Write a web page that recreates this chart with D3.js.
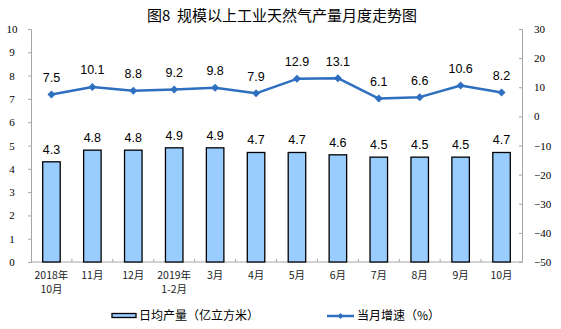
<!DOCTYPE html>
<html><head><meta charset="utf-8">
<script src="https://cdn.jsdelivr.net/npm/d3@7"></script>
<style>body{margin:0;background:#fff}svg{display:block}</style>
</head><body>
<svg id="c" width="561" height="329"></svg>
<script>
const categories = ["2018年10月","11月","12月","2019年1-2月","3月","4月","5月","6月","7月","8月","9月","10月"];
const xLabelLines = [["2018年","10月"],["11月"],["12月"],["2019年","1-2月"],["3月"],["4月"],["5月"],["6月"],["7月"],["8月"],["9月"],["10月"]];
const dailyOutput = [4.3,4.8,4.8,4.9,4.9,4.7,4.7,4.6,4.5,4.5,4.5,4.7];
const monthlyGrowth = [7.5,10.1,8.8,9.2,9.8,7.9,12.9,13.1,6.1,6.6,10.6,8.2];
const leftTicks = [0,1,2,3,4,5,6,7,8,9,10];
const rightTicks = [-50,-40,-30,-20,-10,0,10,20,30];
const title = "图8  规模以上工业天然气产量月度走势图";
const legendNames = ["日均产量（亿立方米）","当月增速（%）"];

const svg = d3.select("#c");
const L = 31, R = 522, T = 29, B = 262;
const barColor = "#99CCFF", lineColor = "#2E6FC0", axisColor = "#A6A6A6";
const numFont = "'Liberation Serif','Times New Roman',serif";
const cjk = "'Noto Sans CJK SC','Noto Sans',sans-serif";
const sans = "'Liberation Sans',Arial,sans-serif";

const x = d3.scaleBand().domain(categories).range([L, R]).paddingInner(0.572).paddingOuter(0.286);
const yL = d3.scaleLinear().domain([0,10]).range([B, T]);
const yR = d3.scaleLinear().domain([-50,30]).range([B, T]);
const cx = c => x(c) + x.bandwidth()/2;

svg.append("text").attr("x", 282).attr("y", 21).attr("text-anchor","middle")
  .style("white-space","pre").attr("font-weight", 400)
  .attr("font-family", cjk).attr("font-size", 15).attr("fill","#000").text(title);

// left axis
const gl = svg.append("g").attr("transform",`translate(${L},0)`)
  .call(d3.axisLeft(yL).tickValues(leftTicks).tickSize(3).tickPadding(6).tickFormat(d3.format("d")));
gl.select(".domain").attr("stroke", axisColor);
gl.selectAll(".tick line").attr("stroke", axisColor);
gl.selectAll("text").attr("font-family", numFont).attr("font-size", 11).attr("fill","#000")
  .attr("text-anchor","middle").attr("x", -19);

// right axis
const gr = svg.append("g").attr("transform",`translate(${R},0)`)
  .call(d3.axisRight(yR).tickValues(rightTicks).tickSize(-3).tickPadding(12).tickFormat(d3.format("d")));
gr.select(".domain").attr("stroke", axisColor);
gr.selectAll(".tick line").attr("stroke", axisColor);
gr.selectAll("text").attr("font-family", numFont).attr("font-size", 11).attr("fill","#000");

// bottom axis
svg.append("line").attr("x1", L).attr("x2", R).attr("y1", B).attr("y2", B).attr("stroke", axisColor);
svg.selectAll(".xb").data(d3.range(1, categories.length)).enter().append("line")
  .attr("x1", i => L + i*x.step()).attr("x2", i => L + i*x.step())
  .attr("y1", B).attr("y2", B-3).attr("stroke", axisColor);
const xl = svg.selectAll(".xl").data(categories).enter().append("text")
  .attr("font-family", cjk).attr("font-size", 10.5).attr("fill","#222").attr("text-anchor","middle");
xl.each(function(c, i){
  const t = d3.select(this);
  xLabelLines[i].forEach((s, j) => t.append("tspan").attr("x", cx(c)).attr("y", 279 + j*14).text(s));
});

// bars
svg.selectAll(".bar").data(dailyOutput).enter().append("rect")
  .attr("x", (d,i) => x(categories[i])).attr("width", x.bandwidth())
  .attr("y", d => yL(d)).attr("height", d => B - yL(d))
  .attr("fill", barColor).attr("stroke","#000").attr("stroke-width", 1.3);
svg.selectAll(".bl").data(dailyOutput).enter().append("text")
  .attr("x", (d,i) => cx(categories[i])).attr("y", d => yL(d) - 8)
  .attr("text-anchor","middle").attr("font-family", sans).attr("font-size", 12.5).attr("fill","#000")
  .text(d => d.toFixed(1));

// line
const line = d3.line().x((d,i) => cx(categories[i])).y(d => yR(d));
svg.append("path").datum(monthlyGrowth).attr("d", line).attr("fill","none")
  .attr("stroke", lineColor).attr("stroke-width", 2.5).attr("stroke-linejoin","round");
const diamond = (r) => `M0,${-r}L${r},0L0,${r}L${-r},0Z`;
svg.selectAll(".mk").data(monthlyGrowth).enter().append("path")
  .attr("transform", (d,i) => `translate(${cx(categories[i])},${yR(d)})`)
  .attr("d", diamond(4)).attr("fill", lineColor);
svg.selectAll(".ll").data(monthlyGrowth).enter().append("text")
  .attr("x", (d,i) => cx(categories[i])).attr("y", d => yR(d) - 12.5)
  .attr("text-anchor","middle").attr("font-family", sans).attr("font-size", 12.5).attr("fill","#000")
  .text(d => d.toFixed(1));

// legend
svg.append("rect").attr("x", 112).attr("y", 313.5).attr("width", 24).attr("height", 4)
  .attr("fill", barColor).attr("stroke","#000").attr("stroke-width", 1.3);
svg.append("text").attr("x", 139).attr("y", 320).attr("font-family", cjk).attr("font-size", 12)
  .attr("fill","#000").text(legendNames[0]);
svg.append("line").attr("x1", 327).attr("x2", 354).attr("y1", 316).attr("y2", 316)
  .attr("stroke", lineColor).attr("stroke-width", 2.5);
svg.append("path").attr("transform","translate(340.5,316)").attr("d", diamond(3)).attr("fill", lineColor);
svg.append("text").attr("x", 357).attr("y", 320).attr("font-family", cjk).attr("font-size", 12)
  .attr("fill","#000").text(legendNames[1]);
</script>
</body></html>
